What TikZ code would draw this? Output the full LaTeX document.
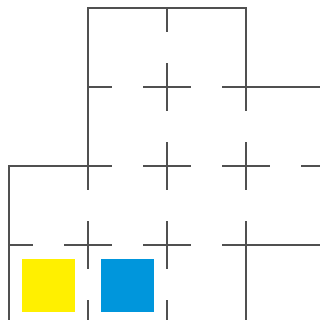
\documentclass[tikz,border=0pt]{standalone}
\definecolor{wallc}{RGB}{80,80,80}
\definecolor{yel}{RGB}{255,240,0}
\definecolor{blu}{RGB}{0,150,220}
\newcommand\hdoor[2]{\draw[wall] (#1,#2) -- ++(23.5,0) ++(32,0) -- ++(23.5,0);}
\newcommand\vdoor[2]{\draw[wall] (#1,#2) -- ++(0,23.5) ++(0,32) -- ++(0,23.5);}
\newcommand\hfull[2]{\draw[wall] (#1,#2) -- ++(79,0);}
\newcommand\vfull[2]{\draw[wall] (#1,#2) -- ++(0,79);}
\begin{document}
\begin{tikzpicture}[x=1bp,y=-1bp,wall/.style={draw=wallc,line width=1.3bp,line cap=rect}]
\useasboundingbox (0,0) rectangle (320,320);
\fill[white] (0,0) rectangle (320,320);
\clip (0,0) rectangle (320,320);
% horizontal walls
\hfull{88}{8} \hfull{167}{8}
\hdoor{88}{87} \hdoor{167}{87} \hfull{246}{87}
\hfull{9}{166} \hdoor{88}{166} \hdoor{167}{166} \hdoor{246}{166}
\hdoor{9}{245} \hdoor{88}{245} \hdoor{167}{245} \hfull{246}{245}
% vertical walls
\vfull{9}{166} \vfull{9}{245}
\vfull{88}{8} \vfull{88}{87} \vdoor{88}{166} \vdoor{88}{245}
\vdoor{167}{8} \vdoor{167}{87} \vdoor{167}{166} \vdoor{167}{245}
\vfull{246}{8} \vdoor{246}{87} \vdoor{246}{166} \vfull{246}{245}
% coloured squares
\fill[yel] (22,259) rectangle (75,312);
\fill[blu] (101,259) rectangle (154,312);
\end{tikzpicture}
\end{document}
